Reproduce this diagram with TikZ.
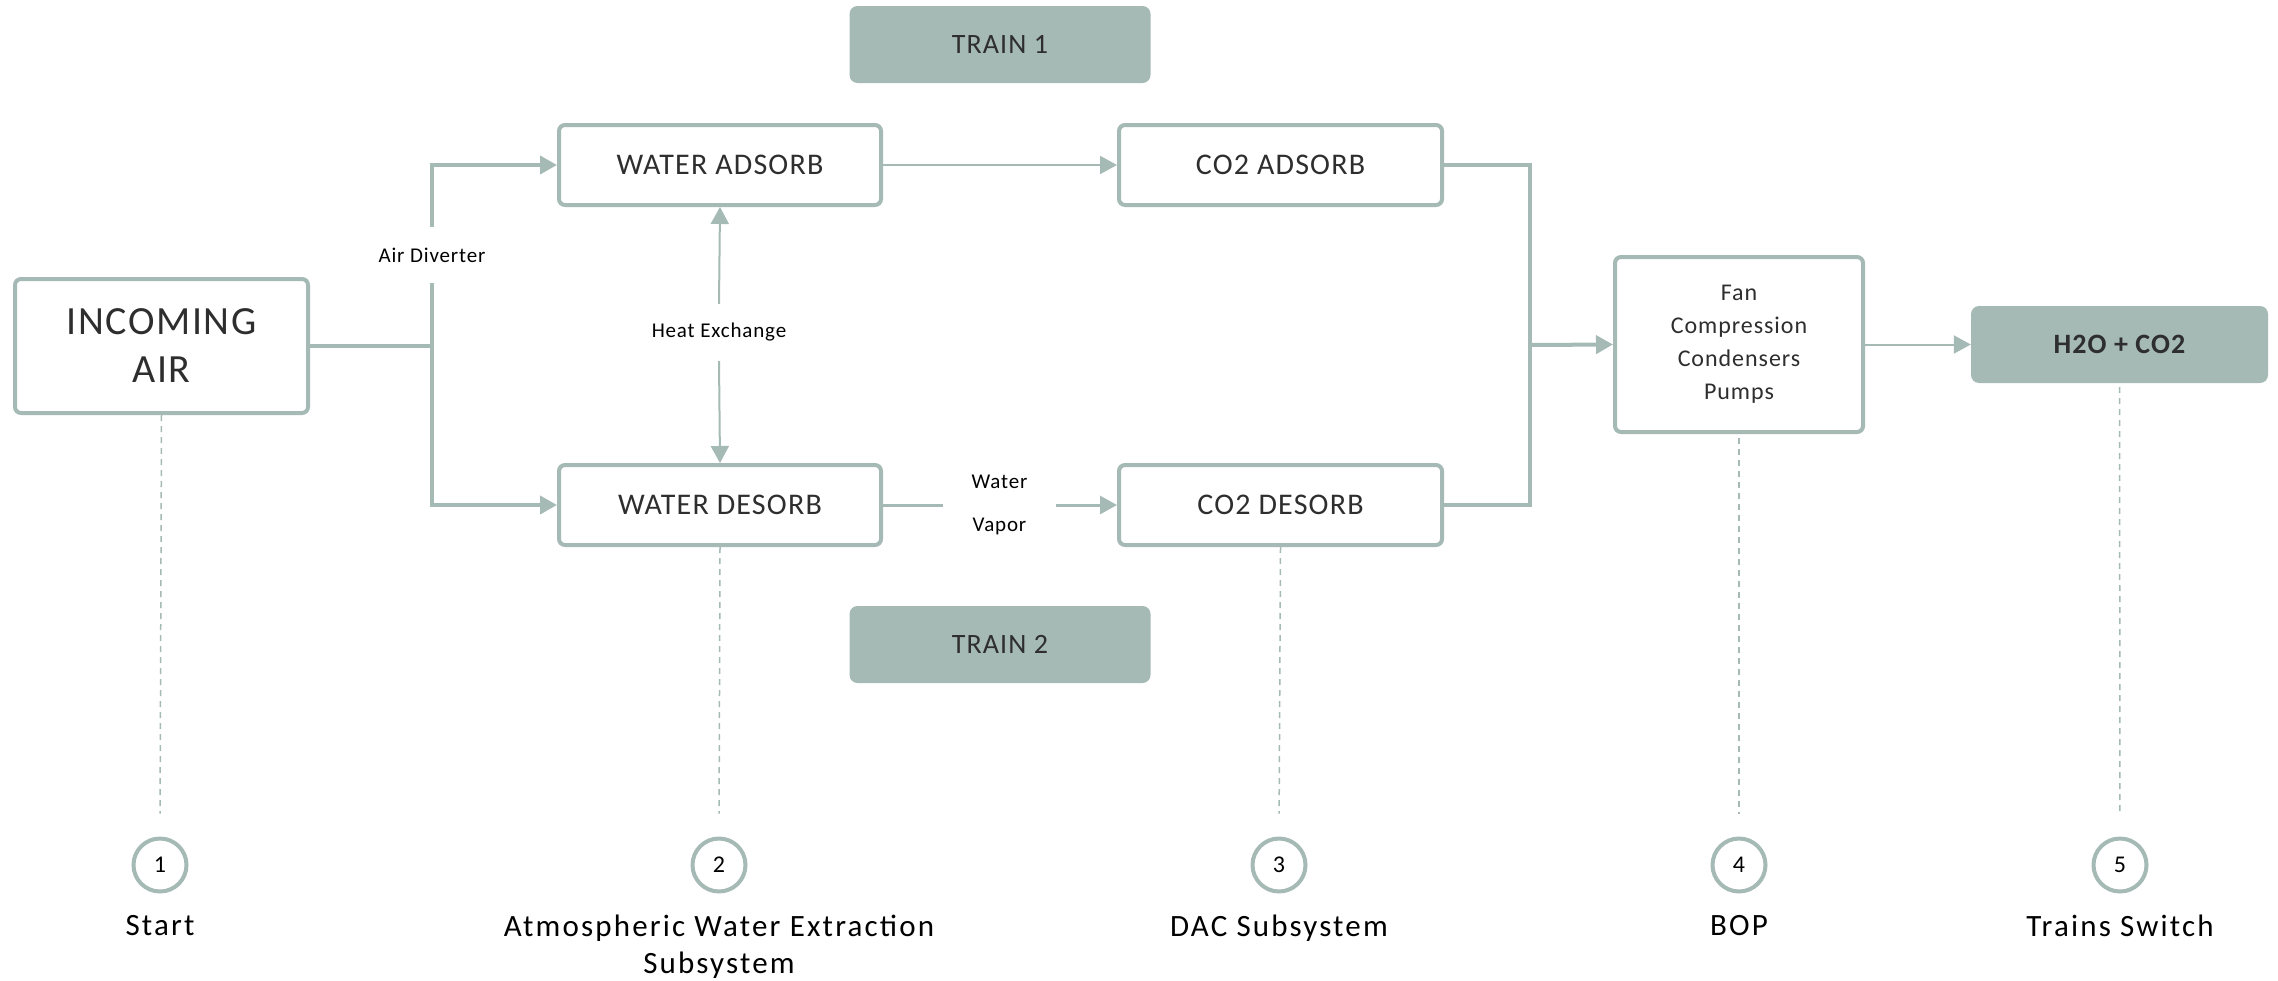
\documentclass[tikz,border=0pt]{standalone}
\usepackage{fontspec}
\setmainfont[LetterSpace=4]{Carlito}
\newfontfamily\widefont[LetterSpace=7]{Carlito}
\usetikzlibrary{arrows.meta}
\definecolor{sage}{HTML}{A5BAB5}
\definecolor{inkgray}{HTML}{2E2E2E}

\begin{document}
\begin{tikzpicture}[x=1pt, y=-1pt,
    stage/.style={draw=sage, line width=4pt, rounded corners=6pt, fill=white, text=inkgray, align=center, inner sep=0pt},
    trainbox/.style={fill=sage, rounded corners=8pt, minimum width=301pt, minimum height=77pt, text=inkgray, font=\fontsize{28}{34}\selectfont},
    flow/.style={sage, line width=4pt, -{Triangle[length=17pt, width=18pt]}},
    thinflow/.style={sage, line width=2pt, -{Triangle[length=17pt, width=18pt]}},
    pipe/.style={sage, line width=4pt},
    guide/.style={sage, line width=1.5pt, dash pattern=on 6pt off 5pt},
    note/.style={text=black, font=\fontsize{21}{43}\selectfont, align=center, inner sep=0pt},
    stepmark/.style={circle, draw=sage, line width=4pt, minimum size=53pt, inner sep=0pt, fill=white, font=\fontsize{24}{28}\selectfont},
    caption/.style={anchor=north, align=center, inner sep=0pt, font=\widefont\fontsize{31}{37}\selectfont}]

  \useasboundingbox (0,0) rectangle (2278,980);

  % === trains ===
  \node[trainbox] (train1) at (1000,44.5) {TRAIN 1};
  \node[trainbox] (train2) at (1000,644.5) {TRAIN 2};

  % === process boxes ===
  \node[stage, minimum width=293pt, minimum height=134pt, font=\fontsize{40}{48}\selectfont] (air) at (161.5,346) {INCOMING\\AIR};
  \node[stage, minimum width=322pt, minimum height=80pt, font=\fontsize{30}{34}\selectfont] (wads) at (720,165) {WATER ADSORB};
  \node[stage, minimum width=322pt, minimum height=80pt, font=\fontsize{30}{34}\selectfont] (wdes) at (720,505) {WATER DESORB};
  \node[stage, minimum width=323pt, minimum height=80pt, font=\fontsize{30}{34}\selectfont] (cads) at (1280.5,165) {CO2 ADSORB};
  \node[stage, minimum width=323pt, minimum height=80pt, font=\fontsize{30}{34}\selectfont] (cdes) at (1280.5,505) {CO2 DESORB};
  \node[stage, minimum width=248pt, minimum height=175pt, font=\fontsize{24}{33}\selectfont] (bop) at (1739,344.5) {Fan\\Compression\\Condensers\\Pumps};
  \node[trainbox, minimum width=297pt, font=\fontsize{28}{34}\selectfont\bfseries] (out) at (2119.5,344.5) {H2O + CO2};

  % === labels on the lines ===
  \node[note, minimum height=56pt] (diverter) at (432,255) {Air Diverter};
  \node[note, minimum height=57pt] (heatx) at (719,332.5) {Heat Exchange};
  \node[note, minimum width=113pt] (vapor) at (999.5,505) {Water\\Vapor};
  \coordinate (split) at (432,346);
  \coordinate (merge) at (1530,345);

  % === air diverter ===
  \draw[pipe] (air.east) -- (split) -- (diverter.south);
  \draw[flow] (diverter.north) |- (wads.west);
  \draw[flow] (split) |- (wdes.west);

  % === heat exchange and train links ===
  \draw[thinflow] (heatx.north) -- (wads.south);
  \draw[thinflow] (heatx.south) -- (wdes.north);
  \draw[thinflow] (wads.east) -- (cads.west);
  \draw[sage, line width=3pt] (wdes.east) -- (vapor.west);
  \draw[sage, line width=3pt, -{Triangle[length=17pt, width=18pt]}] (vapor.east) -- (cdes.west);

  % === merge to BOP ===
  \draw[pipe] (cads.east) -| (merge) |- (cdes.east);
  \draw[flow] (merge) -- (bop.west);
  \draw[thinflow] (bop.east) -- (out.west);

  % === steps ===
  \node[stepmark] (s1) at (160,865) {1};
  \node[stepmark] (s2) at (719,865) {2};
  \node[stepmark] (s3) at (1279,865) {3};
  \node[stepmark] (s4) at (1739,865) {4};
  \node[stepmark] (s5) at (2120,865) {5};

  \draw[guide, shorten >=23pt] (air.south) -- (s1.north);
  \draw[guide, shorten >=23pt] (wdes.south) -- (s2.north);
  \draw[guide, shorten >=23pt] (cdes.south) -- (s3.north);
  \draw[guide, shorten >=23pt, shorten <=4pt] (bop.south) -- (s4.north);
  \draw[guide, shorten >=23pt, shorten <=4pt] (out.south) -- (s5.north);

  \node[caption] (c1) at (160,915) {Start};
  \node[caption] (c2) at (719,915) {Atmospheric Water Extraction\\Subsystem};
  \node[caption] (c3) at (1279,915) {DAC Subsystem};
  \node[caption] (c4) at (1739,915) {BOP};
  \node[caption] (c5) at (2120,915) {Trains Switch};
\end{tikzpicture}
\end{document}
